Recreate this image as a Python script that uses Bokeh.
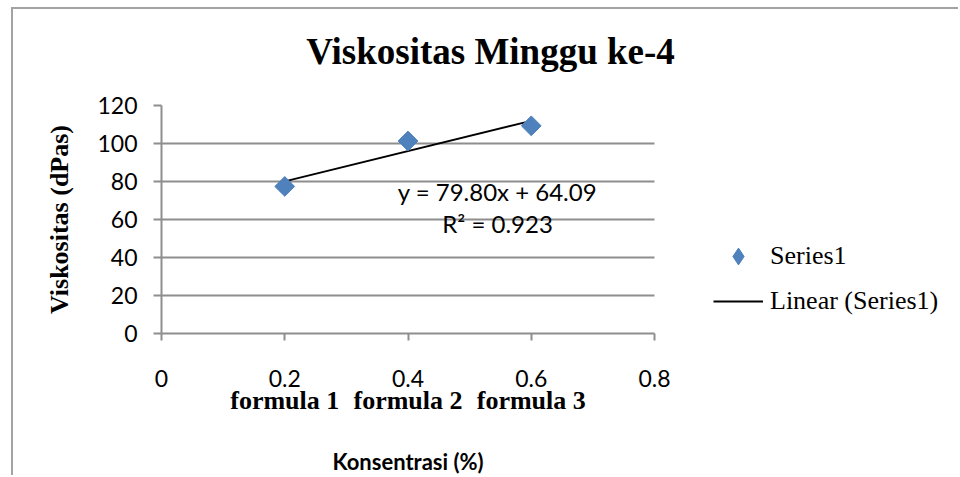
from bokeh.plotting import figure
from bokeh.models import Range1d, FixedTicker, Label, Legend, LegendItem, LinearAxis
from bokeh.embed import file_html
from bokeh.resources import INLINE
import math

# ---- data ----
concentration = [0.2, 0.4, 0.6]
viscosity = [77.4, 101.3, 109.3]
formula_names = ["formula 1", "formula 2", "formula 3"]
trend_slope = 79.80
trend_intercept = 64.09
equation_text = "y = 79.80x + 64.09"
r2_text = "R² = 0.923"
x_ticks = [0, 0.2, 0.4, 0.6, 0.8]
x_tick_labels = ["0", "0.2", "0.4", "0.6", "0.8"]
y_ticks = [0, 20, 40, 60, 80, 100, 120]
x_title = "Konsentrasi (%)"
y_title = "Viskositas (dPas)"
chart_title = "Viskositas Minggu ke-4"
series_label = "Series1"
trend_label = "Linear (Series1)"

GRID = "#8e8e8e"
BLUE = "#4F81BD"
SANS = "Lato"
SERIF = "Liberation Serif"

# layout (pixels)
W, H = 947, 468
LEFT, TOP, BOTTOM = 148, 96, 140
AXIS_PX = 493                      # pixel length of the 0..0.8 axis
TITLE_CENTER_PX = 329              # chart title centre, measured from the y axis
x_lo, x_hi = x_ticks[0], x_ticks[-1]
frame_px = W - LEFT                # frame extends to the right edge (legend room)
x_end = x_lo + (x_hi - x_lo) * frame_px / AXIS_PX
x_title_pos = x_lo + (x_hi - x_lo) * TITLE_CENTER_PX / AXIS_PX

p = figure(width=W, height=H, output_backend="svg", toolbar_location=None,
           x_range=Range1d(x_lo, x_end), y_range=Range1d(y_ticks[0], y_ticks[-1]),
           min_border_left=LEFT, min_border_right=0,
           min_border_top=TOP, min_border_bottom=BOTTOM)
p.styles = {"border-left": "2px solid #a3a3a3", "border-top": "2px solid #a3a3a3",
            "margin-left": "11px", "margin-top": "7px"}
p.outline_line_color = None

# axes
p.xaxis.ticker = FixedTicker(ticks=x_ticks)
p.xaxis.bounds = (x_lo, x_hi)
p.xaxis.major_label_overrides = {t: l for t, l in zip(x_ticks, x_tick_labels)}
p.yaxis.ticker = FixedTicker(ticks=y_ticks)
for ax in (p.xaxis[0], p.yaxis[0]):
    ax.axis_line_color = GRID
    ax.axis_line_width = 2
    ax.major_tick_line_color = GRID
    ax.major_tick_line_width = 2
    ax.major_tick_in = 0
    ax.minor_tick_line_color = None
    ax.major_label_text_font = SANS
    ax.major_label_text_font_size = "23px"
    ax.major_label_text_color = "black"
p.xaxis.major_tick_out = 7
p.xaxis.major_label_standoff = 29
p.yaxis.major_tick_out = 8
p.yaxis.major_label_standoff = 16

p.yaxis.axis_label = y_title
p.yaxis.axis_label_text_font = SERIF
p.yaxis.axis_label_text_font_style = "bold"
p.yaxis.axis_label_text_font_size = "26px"
p.yaxis.axis_label_standoff = 20
p.yaxis.axis_label_text_color = "black"


def bare_axis(ticks, labels, font, style, size, standoff):
    ax = LinearAxis(ticker=FixedTicker(ticks=ticks),
                    major_label_overrides={t: l for t, l in zip(ticks, labels)})
    ax.axis_line_color = None
    ax.major_tick_line_color = None
    ax.minor_tick_line_color = None
    ax.major_tick_out = 0
    ax.major_tick_in = 0
    ax.major_label_standoff = standoff
    ax.major_label_text_font = font
    ax.major_label_text_font_style = style
    ax.major_label_text_font_size = size
    ax.major_label_text_color = "black"
    return ax


# chart title (placed in the band above the plot)
p.add_layout(bare_axis([x_title_pos], [chart_title], SERIF, "bold", "37px", 34), "above")
# formula names below the tick labels
p.add_layout(bare_axis(concentration, formula_names, SERIF, "bold", "26px", -4), "below")
# axis title centred under the 0..0.8 axis
x_mid = (x_lo + x_hi) / 2
p.add_layout(bare_axis([x_mid], [x_title], SANS, "bold", "22px", 30), "below")

p.xgrid.grid_line_color = None
p.ygrid.grid_line_color = GRID
p.ygrid.grid_line_width = 2
p.ygrid.cross_bounds = (x_lo, x_hi)

# trendline
tx = [concentration[0], concentration[-1]]
ty = [trend_slope * x + trend_intercept for x in tx]
line_r = p.line(tx, ty, line_color="black", line_width=1.8)

# legend swatch renderer: small diamonds hidden beneath the plotted points
swatch_r = p.scatter(concentration, viscosity, marker="diamond", size=8,
                     fill_color=BLUE, line_color=BLUE)
# points (rotated squares = Excel diamonds)
pts_r = p.scatter(concentration, viscosity, marker="square", size=14,
                  angle=math.pi / 4, fill_color=BLUE, line_color=BLUE)

# equation
p.add_layout(Label(x=336, y=142, x_units="screen", y_units="screen",
                   text=equation_text, text_font=SANS, text_font_size="24px",
                   text_color="black",
                   text_align="center", text_baseline="alphabetic"))
p.add_layout(Label(x=336, y=110, x_units="screen", y_units="screen",
                   text=r2_text, text_font=SANS, text_font_size="24px",
                   text_color="black",
                   text_align="center", text_baseline="alphabetic"))

# legend
legend = Legend(items=[LegendItem(label=series_label, renderers=[swatch_r]),
                       LegendItem(label=trend_label, renderers=[line_r])],
                location=(552, 11), padding=0, margin=0,
                glyph_width=50, glyph_height=42, label_height=42,
                spacing=3, label_standoff=7,
                label_text_font=SERIF, label_text_font_size="26px",
                label_text_color="black",
                label_text_baseline="middle",
                border_line_color=None, background_fill_alpha=0)
p.add_layout(legend)

open("out.html", "w").write(file_html(p, INLINE))
